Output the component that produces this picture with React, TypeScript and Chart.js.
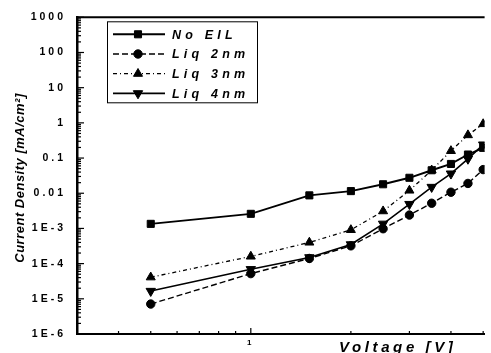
import React, { useEffect, useRef } from 'react';
import { Chart, registerables } from 'chart.js';
import { drawPoint } from 'chart.js/helpers';

Chart.register(...registerables);

const voltage = [0.5, 1, 1.5, 2, 2.5, 3, 3.5, 4, 4.5, 5];
const noEIL = [1.35e-3, 2.6e-3, 8.7e-3, 1.15e-2, 1.8e-2, 2.75e-2, 4.5e-2, 6.8e-2, 0.126, 0.195];
const liq2nm = [7.1e-6, 5.2e-5, 1.4e-4, 3.2e-4, 9.8e-4, 2.4e-3, 5.2e-3, 1.07e-2, 1.9e-2, 4.7e-2];
const liq3nm = [4.1e-5, 1.6e-4, 4.0e-4, 9.1e-4, 3.1e-3, 1.2e-2, 4.5e-2, 0.16, 0.45, 0.93];
const liq4nm = [1.66e-5, 6.9e-5, 1.5e-4, 3.5e-4, 1.35e-3, 4.9e-3, 1.5e-2, 3.6e-2, 0.095, 0.24];
const seriesLabels = ['No EIL', 'Liq 2nm', 'Liq 3nm', 'Liq 4nm'];
const seriesValues = [noEIL, liq2nm, liq3nm, liq4nm];

const yTickValues = [1000, 100, 10, 1, 0.1, 0.01, 1e-3, 1e-4, 1e-5, 1e-6];
const yTickLabels = ['1000', '100', '10', '1', '0.1', '0.01', '1E-3', '1E-4', '1E-5', '1E-6'];
const xTickValues = [1];
const xTickLabels = ['1'];
const xTitle = 'Voltage [V]';
const yTitle = 'Current Density [mA/cm²]';

const pointStyles = ['rect', 'circle', 'triangle', 'triangle'];
const pointRotations = [0, 0, 0, 180];
const pointRadii = [5, 4.2, 5.2, 5.4];
const lineDashes: number[][] = [[], [6, 3], [4, 3, 1, 3], []];
const lineWidths = [1.9, 1.4, 1.3, 1.6];

const FONT = '"Liberation Sans", Arial, sans-serif';

const decorPlugin = {
  id: 'decor',
  beforeDraw(chart: any) {
    chart.ctx.letterSpacing = '3px';
  },
  afterDraw(chart: any) {
    const ctx = chart.ctx as CanvasRenderingContext2D;
    const { left, right, top, bottom } = chart.chartArea;
    const ys = chart.scales.y;
    const xs = chart.scales.x;
    ctx.save();
    ctx.letterSpacing = '0px';
    ctx.strokeStyle = '#000';
    ctx.setLineDash([]);
    // top frame line
    ctx.lineWidth = 2;
    ctx.beginPath();
    ctx.moveTo(left, top);
    ctx.lineTo(right, top);
    ctx.stroke();
    // y ticks inward
    ctx.lineWidth = 1.2;
    for (let e = -6; e <= 3; e++) {
      for (let k = 1; k <= 9; k++) {
        const v = k * Math.pow(10, e);
        if (v < ys.min * 0.999 || v > ys.max * 1.001) continue;
        const py = ys.getPixelForValue(v);
        const len = k === 1 ? 7 : 4;
        ctx.beginPath();
        ctx.moveTo(left, py);
        ctx.lineTo(left + len, py);
        ctx.stroke();
      }
    }
    // x ticks inward
    for (let e = -1; e <= 0; e++) {
      for (let k = 1; k <= 9; k++) {
        const v = k * Math.pow(10, e);
        if (v <= xs.min * 1.001 || v > xs.max) continue;
        const px = xs.getPixelForValue(v);
        const len = k === 1 && e === 0 ? 6 : 3;
        ctx.beginPath();
        ctx.moveTo(px, bottom);
        ctx.lineTo(px, bottom - len);
        ctx.stroke();
      }
    }
    // axis titles
    ctx.fillStyle = '#000';
    ctx.font = `italic bold 15px ${FONT}`;
    ctx.letterSpacing = '3.6px';
    ctx.textAlign = 'left';
    ctx.textBaseline = 'alphabetic';
    ctx.fillText(xTitle, 339, 352);

    ctx.save();
    ctx.translate(20, 178);
    ctx.rotate(-Math.PI / 2);
    ctx.font = `italic bold 13px ${FONT}`;
    ctx.letterSpacing = '0.5px';
    ctx.textAlign = 'center';
    ctx.textBaseline = 'middle';
    ctx.fillText(yTitle, 0, 0);
    ctx.restore();

    // legend
    const lx = left + 30;
    const ly = top + 4;
    ctx.lineWidth = 1;
    ctx.strokeStyle = '#000';
    ctx.strokeRect(lx + 0.5, ly + 0.5, 150, 81);
    ctx.font = `italic bold 12.5px ${FONT}`;
    ctx.letterSpacing = '4.2px';
    ctx.textBaseline = 'middle';
    ctx.textAlign = 'left';
    seriesLabels.forEach((lab, i) => {
      const ry = ly + 13 + i * 19.7;
      ctx.lineWidth = lineWidths[i];
      ctx.setLineDash(lineDashes[i]);
      ctx.beginPath();
      ctx.moveTo(lx + 6, ry);
      ctx.lineTo(lx + 58, ry);
      ctx.stroke();
      ctx.setLineDash([]);
      ctx.fillStyle = '#000';
      ctx.lineWidth = 1;
      drawPoint(ctx, {
        pointStyle: pointStyles[i],
        rotation: pointRotations[i],
        radius: pointRadii[i],
        borderWidth: 1,
      } as any, lx + 31, ry);
      ctx.fillStyle = '#000';
      ctx.fillText(lab, lx + 65, ry + 1);
    });
    ctx.restore();
  },
};

export default function App() {
  const ref = useRef<HTMLCanvasElement>(null);
  useEffect(() => {
    if (!ref.current) return;
    const datasets = seriesLabels.map((lab, i) => ({
      label: lab,
      data: voltage.map((v, j) => ({ x: v, y: seriesValues[i][j] })),
      showLine: true,
      borderColor: '#000',
      backgroundColor: '#000',
      borderWidth: lineWidths[i],
      borderDash: lineDashes[i],
      pointStyle: pointStyles[i],
      pointRotation: pointRotations[i],
      pointRadius: pointRadii[i],
      pointBorderWidth: 1,
      pointBorderColor: '#000',
      pointBackgroundColor: '#000',
    }));
    const chart = new Chart(ref.current, {
      type: 'scatter',
      data: { datasets },
      options: {
        animation: false,
        responsive: false,
        layout: { padding: { top: 14, right: 0, left: 0, bottom: 0 } },
        plugins: { legend: { display: false }, tooltip: { enabled: false } },
        scales: {
          x: {
            type: 'logarithmic',
            min: 0.3,
            max: 5.05,
            afterFit: (s: any) => { s.height = 19; },
            afterBuildTicks: (s: any) => { s.ticks = xTickValues.map((v) => ({ value: v })); },
            grid: { display: false, drawTicks: false },
            border: { display: true, color: '#000', width: 2 },
            ticks: {
              autoSkip: false,
              maxRotation: 0,
              padding: 4,
              color: '#000',
              font: { family: FONT, weight: 'bold', size: 8 },
              callback: (v: any) => {
                const idx = xTickValues.findIndex((t) => Math.abs(t - v) < 1e-9);
                return idx >= 0 ? xTickLabels[idx] : '';
              },
            },
          },
          y: {
            type: 'logarithmic',
            min: 1e-6,
            max: 1000,
            afterFit: (s: any) => { s.width = 77; },
            afterBuildTicks: (s: any) => { s.ticks = yTickValues.map((v) => ({ value: v })); },
            grid: { display: false, drawTicks: false },
            border: { display: true, color: '#000', width: 2.5 },
            ticks: {
              autoSkip: false,
              padding: 11,
              color: '#000',
              font: { family: FONT, weight: 'bold', size: 10.5 },
              callback: (v: any) => {
                const idx = yTickValues.findIndex((t) => Math.abs(Math.log10(t) - Math.log10(v)) < 1e-6);
                return idx >= 0 ? yTickLabels[idx] : '';
              },
            },
          },
        },
      },
      plugins: [decorPlugin],
    } as any);
    return () => chart.destroy();
  }, []);
  return (
    <div style={{ position: 'fixed', left: 0, top: 0, width: 491, height: 353, background: '#fff' }}>
      <canvas ref={ref} width={491} height={353} style={{ display: 'block' }} />
    </div>
  );
}
